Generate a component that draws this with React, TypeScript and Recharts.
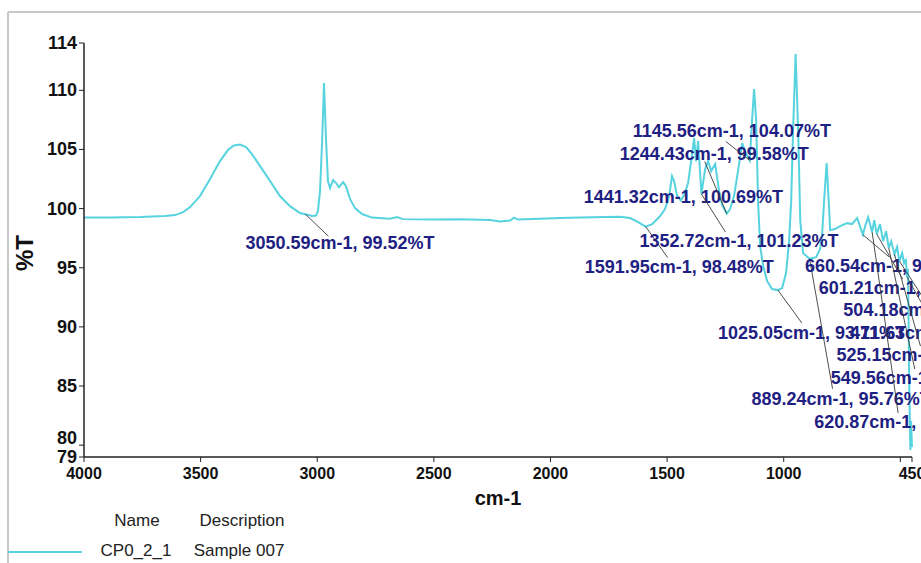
import React from 'react';
import { LineChart, Line, XAxis, YAxis, ReferenceDot, Customized, Label } from 'recharts';

// ---- data ----
const wavenumbers = [
  4000, 3889, 3760, 3653, 3610, 3575, 3545, 3503, 3460, 3417, 3383, 3357, 3331, 3305, 3280, 3245, 3202, 3160, 3117, 3074,
  3050.59, 3022, 3005, 2997, 2988, 2979, 2971, 2962, 2954, 2945, 2932, 2919, 2907, 2889, 2877, 2859, 2838, 2808, 2765, 2688,
  2658, 2632, 2516, 2388, 2259, 2216, 2173, 2156, 2139, 2045, 1959, 1873, 1766, 1702, 1659, 1624, 1591.95, 1564, 1530, 1509,
  1491, 1479, 1470, 1457, 1441.32, 1427, 1410, 1397, 1384, 1376, 1367, 1352.72, 1337, 1324, 1311, 1294, 1277, 1264, 1244.43, 1230,
  1213, 1196, 1178, 1166, 1145.56, 1136, 1127, 1118, 1110, 1101, 1088, 1071, 1050, 1025.05, 1007, 990, 977, 968, 960, 949,
  938, 929, 917, 889.24, 861, 844, 835, 827, 816, 807, 801, 780, 758, 728, 707, 685, 660.54, 651, 638, 620.87,
  612, 601.21, 587, 574, 561, 549.56, 539, 525.15, 514, 504.18, 492, 484, 476, 471.63, 467, 462, 457, 454, 450,
];
const transmittance = [
  99.24, 99.24, 99.28, 99.37, 99.45, 99.7, 100.13, 101.06, 102.49, 104.02, 104.95, 105.33, 105.41, 105.2, 104.61, 103.59, 102.32, 101.06, 100.21, 99.62,
  99.52, 99.37, 99.41, 99.79, 101.48, 105.71, 110.61, 105.71, 102.32, 101.73, 102.41, 102.16, 101.82, 102.24, 101.9, 100.8, 100.04, 99.54, 99.24, 99.15,
  99.28, 99.11, 99.07, 99.11, 99.03, 98.9, 98.99, 99.24, 99.07, 99.15, 99.2, 99.24, 99.28, 99.32, 99.2, 98.86, 98.48, 98.69, 99.37, 99.96,
  101.06, 102.75, 102.32, 101.06, 100.69, 101.14, 102.16, 104.02, 105.96, 104.02, 105.71, 101.23, 103.34, 104.02, 103.17, 103.76, 101.48, 100.3, 99.58, 99.96,
  101.06, 103.17, 105.54, 104.86, 104.07, 107.4, 110.1, 107.4, 100.63, 96.83, 95.14, 93.87, 93.2, 93.11, 93.28, 94.55, 97.25, 100.63, 106.55, 113.06,
  106.55, 98.94, 96.24, 95.76, 95.9, 96.58, 97.93, 100.63, 103.85, 100.63, 98.18, 98.27, 98.52, 98.77, 98.69, 99.2, 97.79, 98.52, 99.28, 98.01,
  99.03, 97.84, 98.69, 97.25, 98.1, 96.66, 97.25, 96.15, 96.75, 95.56, 96.24, 95.39, 95.73, 94.21, 94.89, 85.42, 79.59, 82.04, 79.84,
];

const xTicks = [4000, 3500, 3000, 2500, 2000, 1500, 1000, 500, 450];
const xTicksUnlabeled = [500];
const yTicks = [79, 80, 85, 90, 95, 100, 105, 110, 114];

const peakWavenumbers = [3050.59, 1591.95, 1441.32, 1352.72, 1244.43, 1145.56, 1025.05, 889.24, 660.54, 601.21, 504.18, 471.63, 525.15, 549.56, 620.87];
const peakTransmittance = [99.52, 98.48, 100.69, 101.23, 99.58, 104.07, 93.11, 95.76, 97.79, 97.84, 95.56, 94.21, 96.15, 96.66, 98.01];

const seriesName = 'CP0_2_1';
const seriesDescription = 'Sample 007';
const legendHeaders = ['Name', 'Description'];
const xAxisTitle = 'cm-1';
const yAxisTitle = '%T';

// ---- layout (pixel offsets of each peak label relative to its point: label dx, dy, leader end dx, dy) ----
const peakLabelLayout = [
  [-60, 29, 23, 22],
  [-61, 40, 22, 31],
  [-97, -3, 0, 0],
  [-62, 47, 24, 38],
  [-107, -60, -22, -52],
  [-117, -29, -24, -19],
  [-60, 43, 24, 33],
  [-58, 140, 23, 130],
  [-58, 31, 26, 22],
  [-58, 54, 26, 45],
  [-56, 49, 26, 40],
  [-57, 56, 26, 46],
  [-58, 101, 26, 92],
  [-58, 130, 26, 121],
  [-58, 190, 26, 181],
];

const FONT = '"Liberation Sans", Arial, Helvetica, sans-serif';
const CURVE = '#57d3df';
const NAVY = '#1e2182';

const data = wavenumbers.map((wn, i) => ({ wn, t: transmittance[i] }));

const PeakMark = ({ cx, cy, text, layout }: any) => {
  const [dx, dy, lx, ly] = layout;
  if (cx == null || cy == null) return null;
  return (
    <g>
      {(lx !== 0 || ly !== 0) && (
        <line x1={cx} y1={cy} x2={cx + lx} y2={cy + ly} stroke="#3a3a3a" strokeWidth={0.9} />
      )}
      <text
        x={cx + dx}
        y={cy + dy}
        dominantBaseline="central"
        fontFamily={FONT}
        fontSize={18}
        fontWeight="bold"
        fill={NAVY}
      >
        {text}
      </text>
    </g>
  );
};

const YTick = ({ x, y, payload }: any) => {
  const shift = payload.value === 80 ? -7 : 0;
  return (
    <text
      x={x}
      y={y + shift}
      textAnchor="end"
      dominantBaseline="central"
      fontFamily={FONT}
      fontSize={18}
      fontWeight="bold"
      fill="#111"
    >
      {payload.value}
    </text>
  );
};

const Decor = () => (
  <g fontFamily={FONT} fontSize={17} fill="#222">
    <line x1={8} y1={12} x2={921} y2={12} stroke="#c8c8c8" strokeWidth={2} />
    <line x1={8} y1={12} x2={8} y2={563} stroke="#c8c8c8" strokeWidth={2} />
    <text x={137} y={520} textAnchor="middle" dominantBaseline="central">{legendHeaders[0]}</text>
    <text x={242} y={520} textAnchor="middle" dominantBaseline="central">{legendHeaders[1]}</text>
    <line x1={8} y1={552} x2={82} y2={552} stroke={CURVE} strokeWidth={2} />
    <text x={136} y={550} textAnchor="middle" dominantBaseline="central">{seriesName}</text>
    <text x={239} y={550} textAnchor="middle" dominantBaseline="central">{seriesDescription}</text>
  </g>
);

export default function App() {
  return (
    <div style={{ position: 'absolute', left: 0, top: 0, width: 921, height: 563, overflow: 'hidden', background: '#fff' }}>
      <LineChart width={921} height={563} data={data} margin={{ top: 43, right: 9, bottom: 66, left: 0 }}>
        <Customized component={Decor} />
        <XAxis
          type="number"
          dataKey="wn"
          domain={[450, 4000]}
          reversed
          ticks={xTicks}
          interval={0}
          height={40}
          tickSize={5}
          tickMargin={6}
          tickFormatter={(v: number) => (xTicksUnlabeled.includes(v) ? '' : String(v))}
          tick={{ fontFamily: FONT, fontSize: 16, fontWeight: 'bold', fill: '#111' }}
          axisLine={{ stroke: '#222', strokeWidth: 1.5 }}
          tickLine={{ stroke: '#222' }}
        >
          <Label
            content={(props: any) => {
              const vb = props.viewBox || { x: 84, y: 457, width: 828 };
              return (
                <text x={vb.x + vb.width / 2} y={vb.y + 48} textAnchor="middle" fontFamily={FONT} fontSize={20} fontWeight="bold" fill="#111">
                  {xAxisTitle}
                </text>
              );
            }}
          />
        </XAxis>
        <YAxis
          type="number"
          domain={[79, 114]}
          ticks={yTicks}
          interval={0}
          width={84}
          tickSize={5}
          tickMargin={2}
          tick={<YTick />}
          axisLine={{ stroke: '#222', strokeWidth: 1.5 }}
          tickLine={{ stroke: '#222' }}
        >
          <Label
            content={(props: any) => {
              const vb = props.viewBox || { x: 0, y: 43, width: 84, height: 414 };
              const cx = 24;
              const cy = vb.y + vb.height / 2 + 3;
              return (
                <text x={cx} y={cy} transform={`rotate(-90 ${cx} ${cy})`} textAnchor="middle" dominantBaseline="central" fontFamily={FONT} fontSize={24} fontWeight="bold" fill="#111">
                  {yAxisTitle}
                </text>
              );
            }}
          />
        </YAxis>
        <Line type="linear" dataKey="t" stroke={CURVE} strokeWidth={2} dot={false} isAnimationActive={false} />
        {peakWavenumbers.map((wn, i) => (
          <ReferenceDot
            key={wn}
            x={wn}
            y={peakTransmittance[i]}
            r={0}
            ifOverflow="visible"
            shape={(p: any) => (
              <PeakMark
                cx={p.cx}
                cy={p.cy}
                layout={peakLabelLayout[i]}
                text={`${wn.toFixed(2)}cm-1, ${peakTransmittance[i].toFixed(2)}%T`}
              />
            )}
          />
        ))}
      </LineChart>
    </div>
  );
}
